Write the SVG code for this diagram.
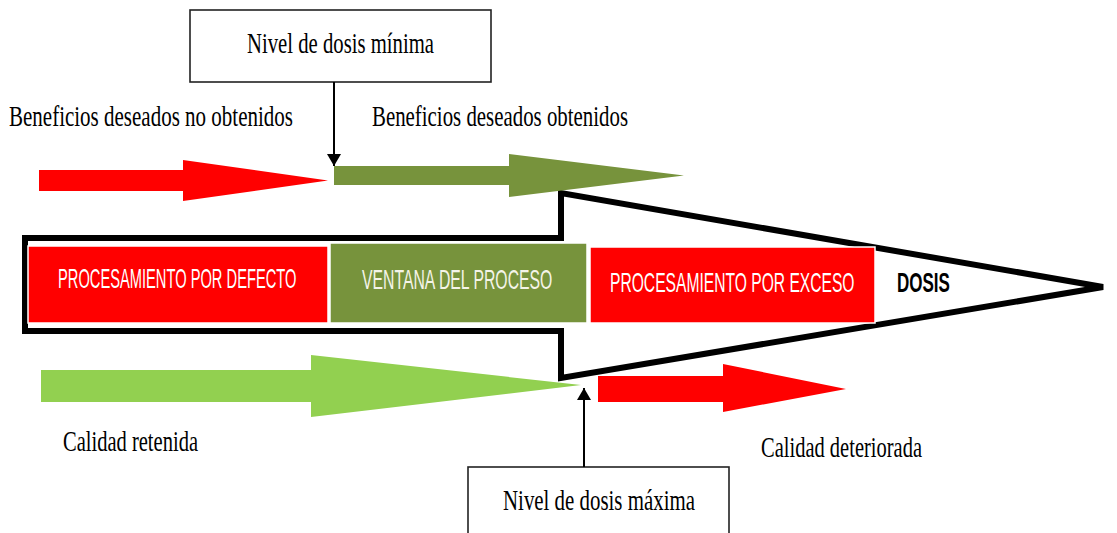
<svg xmlns="http://www.w3.org/2000/svg" width="1117" height="533" viewBox="0 0 1117 533">
<style>
.serif{font-family:"Liberation Serif","Times New Roman",serif;font-size:29px;fill:#000}
.sans{font-family:"Liberation Sans",Arial,sans-serif;font-size:27px;fill:#fff}
.box{fill:#fff;stroke:#222;stroke-width:1.6}
.conn{stroke:#000;stroke-width:2;fill:none}
.red{fill:#ff0000}
.olive{fill:#77933c}
.lgreen{fill:#92d050}
.seg{stroke:#fff;stroke-width:1.5}
</style>
<defs>
<marker id="ah" viewBox="0 0 12 14" refX="12" refY="7" markerWidth="12" markerHeight="14" markerUnits="userSpaceOnUse" orient="auto">
<path d="M0,0 L12,7 L0,14 Z" fill="#000"/>
</marker>
</defs>
<rect width="1117" height="533" fill="#fff"/>

<g id="dose-arrow">
<polygon points="25,238 561,238 561,193 1103,287 561,378 561,331 25,331" fill="#fff" stroke="#000" stroke-width="6" stroke-linejoin="miter"/>
</g>

<g id="seg-defecto">
<rect x="28" y="246" width="300" height="77" class="red seg"/>
<text class="sans" transform="translate(58,288) scale(0.544,1)">PROCESAMIENTO POR DEFECTO</text>
</g>
<g id="seg-ventana">
<rect x="330" y="243" width="257" height="80" class="olive seg"/>
<text class="sans" transform="translate(362,289) scale(0.585,1)" style="fill:#f4f4e8">VENTANA DEL PROCESO</text>
</g>
<g id="seg-exceso">
<rect x="590" y="247" width="285" height="76" class="red seg"/>
<text class="sans" transform="translate(610,292) scale(0.579,1)">PROCESAMIENTO POR EXCESO</text>
</g>
<g id="dosis">
<text class="sans" transform="translate(897,292) scale(0.63,1)" style="fill:#000;font-weight:bold">DOSIS</text>
</g>

<g id="arrow-no-obtenidos">
<polygon class="red" points="39,170 183,170 183,160 328,180.5 183,201 183,191 39,191"/>
</g>
<g id="arrow-obtenidos">
<polygon class="olive" points="334,166 509,166 509,154 684,175.5 509,197 509,185 334,185"/>
</g>
<g id="arrow-retenida">
<polygon class="lgreen" points="41,370 311,370 311,355 581,385 311,417 311,402 41,402"/>
</g>
<g id="arrow-deteriorada">
<polygon class="red" points="598,376 723,376 723,364 846,389 723,412 723,402 598,402"/>
</g>

<g id="box-minima">
<rect x="190" y="10" width="301" height="72" class="box"/>
<text class="serif" x="247" y="53" textLength="187" lengthAdjust="spacingAndGlyphs">Nivel de dosis mínima</text>
</g>
<g id="box-maxima">
<rect x="468" y="467" width="261" height="70" class="box"/>
<text class="serif" x="503" y="510" textLength="192" lengthAdjust="spacingAndGlyphs">Nivel de dosis máxima</text>
</g>

<g id="labels">
<text class="serif" x="9" y="126" textLength="284" lengthAdjust="spacingAndGlyphs">Beneficios deseados no obtenidos</text>
<text class="serif" x="372" y="126" textLength="256" lengthAdjust="spacingAndGlyphs">Beneficios deseados obtenidos</text>
<text class="serif" x="63" y="451" textLength="135" lengthAdjust="spacingAndGlyphs">Calidad retenida</text>
<text class="serif" x="761" y="457" textLength="161" lengthAdjust="spacingAndGlyphs">Calidad deteriorada</text>
</g>

<g id="connectors">
<line class="conn" x1="334" y1="82" x2="334" y2="166" marker-end="url(#ah)"/>
<line class="conn" x1="584" y1="467" x2="584" y2="388" marker-end="url(#ah)"/>
</g>
</svg>
